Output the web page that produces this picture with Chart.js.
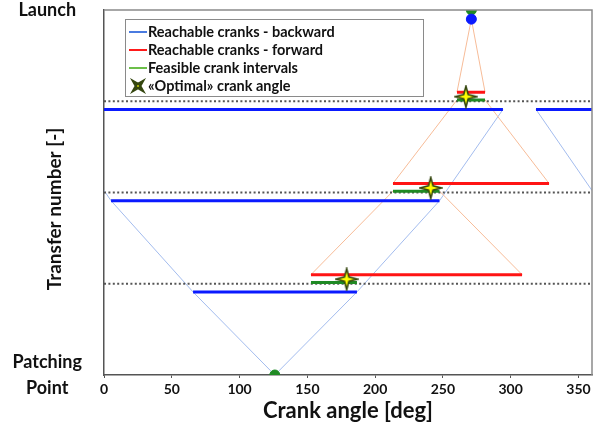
<!DOCTYPE html>
<html>
<head>
<meta charset="utf-8">
<title>Crank angle</title>
<script src="https://cdn.jsdelivr.net/npm/chart.js@4.4.0/dist/chart.umd.min.js"></script>
<style>
  body { margin: 0; background: #fff; }
  #holder { width: 600px; height: 429px; }
</style>
</head>
<body>
<div id="holder"><canvas id="crankChart"></canvas></div>
<script>
// tick values / labels
var angleTicks = [0, 50, 100, 150, 200, 250, 300, 350];
var levels = [0, 1, 2, 3];                       // transfer levels (dotted lines)
var levelNames = { 0: ['Patching', 'Point'], 4: 'Launch' };

// crank angles (deg)
var patchAngle = 126;
var launchAngle = 271;
// backward reachable bounds, level 0..3 (not wrapped)
var backLo = [126, 65.7, 5.2, -41.3];
var backHi = [126, 186.6, 247.5, 294.3];
// forward reachable bounds for levels 1..3
var fwdLevels = [1, 2, 3];
var fwdLo = [152.7, 213.2, 260.4];
var fwdHi = [308.4, 328.3, 281.1];
// "optimal" crank angle for levels 1..3
var optAngle = [179, 241, 267];

var legendLabels = ['Reachable cranks - backward', 'Reachable cranks - forward',
                    'Feasible crank intervals', '\u00abOptimal\u00bb crank angle'];

// small vertical shifts so the bars don't sit on top of each other
var OFF = { back: -0.09, fwd: 0.1, feas: 0.015, opt: 0.05, launch: -0.1 };

function seg(list, x1, y1, x2, y2) {
  if (list.length) list.push({ x: x1, y: null });
  list.push({ x: x1, y: y1 }, { x: x2, y: y2 });
}
// crank angle wraps round at 0/360
function wrapSeg(list, x1, y1, x2, y2) {
  if (x2 < 0 && x1 >= 0) {
    var t = x1 / (x1 - x2);
    var y0 = y1 + t * (y2 - y1);
    seg(list, x1, y1, 0, y0);
    seg(list, 360, y0, x2 + 360, y2);
  } else {
    seg(list, x1, y1, x2, y2);
  }
}

var dotted = [];
levels.forEach(function (L) { seg(dotted, 0, L, 360, L); });

var backBars = [], backCone = [];
for (var L = 1; L < backLo.length; L++) {
  var yb = L + OFF.back;
  if (backLo[L] < 0) {
    seg(backBars, 0, yb, backHi[L], yb);
    seg(backBars, backLo[L] + 360, yb, 360, yb);
  } else {
    seg(backBars, backLo[L], yb, backHi[L], yb);
  }
}
for (var L = 0; L < backLo.length - 1; L++) {
  var y1 = L === 0 ? 0 : L + OFF.back, y2 = L + 1 + OFF.back;
  wrapSeg(backCone, backLo[L], y1, backLo[L + 1], y2);
  wrapSeg(backCone, backHi[L], y1, backHi[L + 1], y2);
}

var fwdBars = [], feasBars = [], fwdCone = [], feasLo = [], feasHi = [];
fwdLevels.forEach(function (lv, i) {
  seg(fwdBars, fwdLo[i], lv + OFF.fwd, fwdHi[i], lv + OFF.fwd);
  feasLo[i] = Math.max(fwdLo[i], backLo[lv]);
  feasHi[i] = Math.min(fwdHi[i], backHi[lv]);
  seg(feasBars, feasLo[i], lv + OFF.feas, feasHi[i], lv + OFF.feas);
});
// launch -> top level, then feasible interval -> next level down
var hiIdx = fwdLevels.length - 1;
seg(fwdCone, launchAngle, 4 + OFF.launch, fwdLo[hiIdx], fwdLevels[hiIdx] + OFF.fwd);
seg(fwdCone, launchAngle, 4 + OFF.launch, fwdHi[hiIdx], fwdLevels[hiIdx] + OFF.fwd);
for (var i = hiIdx; i > 0; i--) {
  var ya = fwdLevels[i] + OFF.feas, yc = fwdLevels[i - 1] + OFF.fwd;
  seg(fwdCone, feasLo[i], ya, fwdLo[i - 1], yc);
  seg(fwdCone, feasHi[i], ya, fwdHi[i - 1], yc);
}

var optPts = optAngle.map(function (a, i) { return { x: a, y: fwdLevels[i] + OFF.opt }; });

function makeStar(size, rot, lw) {
  var c = document.createElement('canvas');
  c.width = c.height = size;
  var g = c.getContext('2d');
  var r = size / 2 - 1.5, ri = r * 0.3;
  g.translate(size / 2, size / 2);
  g.rotate(rot);
  g.beginPath();
  for (var k = 0; k < 8; k++) {
    var a = k * Math.PI / 4 - Math.PI / 2;
    var rr = k % 2 === 0 ? r : ri;
    g.lineTo(Math.cos(a) * rr, Math.sin(a) * rr);
  }
  g.closePath();
  g.fillStyle = '#ffff00';
  g.fill();
  g.strokeStyle = '#34460f';
  g.lineWidth = lw;
  g.lineJoin = 'miter';
  g.stroke();
  return c;
}
var bigStar = makeStar(24, 0, 1.6);
var smallStar = makeStar(16, Math.PI / 4, 2.6);

var FONT = 'Lato, "Open Sans", sans-serif';
Chart.defaults.font.family = FONT;
Chart.defaults.color = '#111';

var framePlugin = {
  id: 'frame',
  afterDraw: function (chart) {
    var ctx = chart.ctx, a = chart.chartArea;
    ctx.save();
    // top / right frame
    ctx.strokeStyle = '#8a8a8a';
    ctx.lineWidth = 1.5;
    ctx.beginPath();
    ctx.moveTo(a.left, a.top);
    ctx.lineTo(a.right, a.top);
    ctx.lineTo(a.right, a.bottom);
    ctx.stroke();

    // y title
    ctx.fillStyle = '#111';
    ctx.font = 'bold 19px Lato';
    ctx.textAlign = 'center';
    ctx.textBaseline = 'middle';
    ctx.translate(55, 209);
    ctx.rotate(-Math.PI / 2);
    ctx.fillText('Transfer number [-]', 0, 0);
    ctx.restore();

    // legend box
    ctx.save();
    var lx = a.left + 21, ly = a.top + 9, lw = 298, lh = 77;
    ctx.fillStyle = '#fff';
    ctx.fillRect(lx, ly, lw, lh);
    ctx.strokeStyle = '#8a8a8a';
    ctx.lineWidth = 1;
    ctx.strokeRect(lx + 0.5, ly + 0.5, lw, lh);
    var cols = ['#4a7be0', '#ff1a1a', '#6cbf4a'];
    ctx.font = 'bold 14.5px Lato';
    ctx.textAlign = 'left';
    ctx.textBaseline = 'middle';
    legendLabels.forEach(function (t, k) {
      var y = ly + 13 + k * 18;
      if (k < 3) {
        ctx.strokeStyle = cols[k];
        ctx.lineWidth = 2;
        ctx.beginPath();
        ctx.moveTo(lx + 4, y);
        ctx.lineTo(lx + 22, y);
        ctx.stroke();
      } else {
        ctx.drawImage(smallStar, lx + 5, y - 8);
      }
      ctx.fillStyle = '#111';
      ctx.fillText(t, lx + 23, y);
    });
    ctx.restore();
  }
};

var thin = { type: 'line', pointRadius: 0, fill: false, spanGaps: false, borderWidth: 1 };
function lineSet(label, data, color, width, order, extra) {
  var d = Object.assign({}, thin, { label: label, data: data, borderColor: color, borderWidth: width, order: order });
  return Object.assign(d, extra || {});
}

new Chart(document.getElementById('crankChart'), {
  type: 'line',
  data: {
    datasets: [
      lineSet('backward cone', backCone, '#a3bcee', 1, 9),
      lineSet('forward cone', fwdCone, '#f7bc98', 1, 8),
      lineSet('levels', dotted, '#555555', 2, 7, { borderDash: [2, 2.4] }),
      lineSet('Reachable cranks - backward', backBars, '#0a1aff', 3, 6),
      lineSet('Reachable cranks - forward', fwdBars, '#ff1414', 3, 5),
      lineSet('Feasible crank intervals', feasBars, '#1f8a24', 3, 4),
      { type: 'scatter', label: 'launch', order: 3, showLine: false,
        data: [{ x: launchAngle, y: 4 }], pointRadius: 5,
        pointBackgroundColor: '#1f8a24', pointBorderColor: '#1f8a24' },
      { type: 'scatter', label: 'launch back', order: 2, showLine: false,
        data: [{ x: launchAngle, y: 4 + OFF.launch }], pointRadius: 5,
        pointBackgroundColor: '#0a1aff', pointBorderColor: '#0a1aff' },
      { type: 'scatter', label: 'patching', order: 3, showLine: false,
        data: [{ x: patchAngle, y: 0 }], pointRadius: 5,
        pointBackgroundColor: '#1f8a24', pointBorderColor: '#1f8a24' },
      { type: 'scatter', label: '\u00abOptimal\u00bb crank angle', order: 1, showLine: false,
        data: optPts, pointStyle: bigStar, pointRadius: 12 }
    ]
  },
  options: {
    responsive: true,
    maintainAspectRatio: false,
    animation: false,
    layout: { autoPadding: false, padding: { left: 10, top: 10, right: 8, bottom: 3 } },
    plugins: { legend: { display: false }, tooltip: { enabled: false } },
    scales: {
      x: {
        type: 'linear', min: 0, max: 360,
        afterBuildTicks: function (s) { s.ticks = angleTicks.map(function (v) { return { value: v }; }); },
        afterFit: function (s) { s.height = 51; s.paddingLeft = 0; s.paddingRight = 0; },
        grid: { drawOnChartArea: false, drawTicks: true, tickLength: 3, color: '#555' },
        border: { display: true, color: '#555', width: 1.5 },
        ticks: { font: { size: 14, weight: 'bold' }, padding: 3, maxRotation: 0, autoSkip: false },
        title: { display: true, text: 'Crank angle [deg]', font: { size: 22, weight: 'bold' },
                 padding: { top: 2, bottom: 2 } }
      },
      y: {
        type: 'linear', min: 0, max: 4,
        afterBuildTicks: function (s) { s.ticks = [{ value: 0 }, { value: 4 }]; },
        afterFit: function (s) { s.width = 94; s.paddingTop = 0; s.paddingBottom = 0; },
        grid: { display: false, drawTicks: false },
        border: { display: true, color: '#555', width: 1.5 },
        ticks: {
          autoSkip: false, padding: 22, crossAlign: 'center',
          font: { size: 18, weight: 'bold', lineHeight: 1.45 },
          callback: function (v) { return levelNames[v] || ''; }
        }
      }
    }
  },
  plugins: [framePlugin]
});
</script>
</body>
</html>
